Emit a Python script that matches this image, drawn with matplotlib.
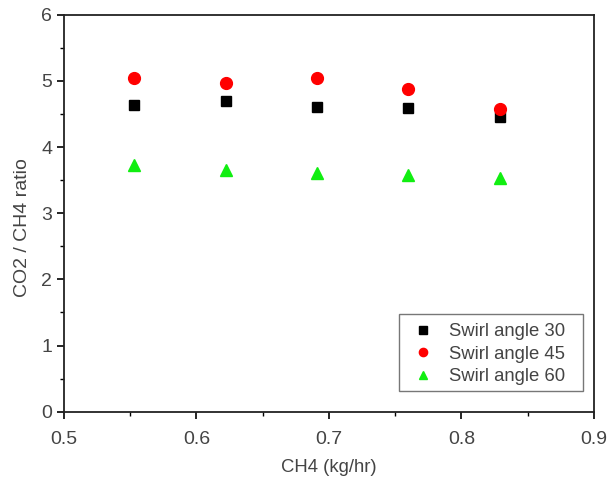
import matplotlib
matplotlib.use('Agg')
import matplotlib.pyplot as plt
from matplotlib.patches import Rectangle
from matplotlib.ticker import MultipleLocator

# data
ch4 = [0.553, 0.622, 0.691, 0.760, 0.829]
swirl_30 = [4.64, 4.69, 4.60, 4.59, 4.46]
swirl_45 = [5.05, 4.97, 5.05, 4.88, 4.57]
swirl_60 = [3.73, 3.66, 3.61, 3.58, 3.53]
labels = ['Swirl angle 30', 'Swirl angle 45', 'Swirl angle 60']

plt.rcParams['font.family'] = ['Liberation Sans', 'DejaVu Sans']
txt = '#444444'

fig = plt.figure(figsize=(6.11, 4.8), dpi=100)
ax = fig.add_axes([0.1047, 0.1423, 0.8674, 0.8271])

ax.plot(ch4, swirl_30, ls='none', marker='s', ms=7.5, color='black', label=labels[0])
ax.plot(ch4, swirl_45, ls='none', marker='o', ms=8.5, color='#ff0000', label=labels[1])
ax.plot(ch4, swirl_60, ls='none', marker='^', ms=8.5, color='#11ee11', label=labels[2])

ax.set_xlim(0.5, 0.9)
ax.set_ylim(0, 6)
ax.xaxis.set_major_locator(MultipleLocator(0.1))
ax.xaxis.set_minor_locator(MultipleLocator(0.05))
ax.yaxis.set_major_locator(MultipleLocator(1))
ax.yaxis.set_minor_locator(MultipleLocator(0.5))
ax.tick_params(which='major', direction='out', length=5, width=1.2, labelsize=14, labelcolor=txt)
ax.tick_params(axis='x', which='major', pad=9)
ax.tick_params(which='minor', direction='out', length=3, width=1.0)
for s in ax.spines.values():
    s.set_linewidth(1.3)
    s.set_color('#222222')

ax.set_xlabel('CH4 (kg/hr)', fontsize=13.3, color=txt, labelpad=8)
ax.set_ylabel('CO2 / CH4 ratio', fontsize=14, color=txt)
ax.yaxis.set_label_coords(-0.062, 0.463)

# legend frame drawn by hand (wider side padding than matplotlib gives)
ax.add_patch(Rectangle((0.632, 0.052), 0.347, 0.194, transform=ax.transAxes,
                       facecolor='white', edgecolor='#777777', lw=1.0, zorder=4))
leg = ax.legend(loc='lower right', bbox_to_anchor=(0.946, 0.066), fontsize=13.3,
                frameon=False, handlelength=1.2, handletextpad=0.8,
                borderpad=0, borderaxespad=0, labelspacing=0.3, markerscale=0.7)
leg.set_zorder(5)
for t in leg.get_texts():
    t.set_color(txt)

fig.savefig('out.png', dpi=100)
